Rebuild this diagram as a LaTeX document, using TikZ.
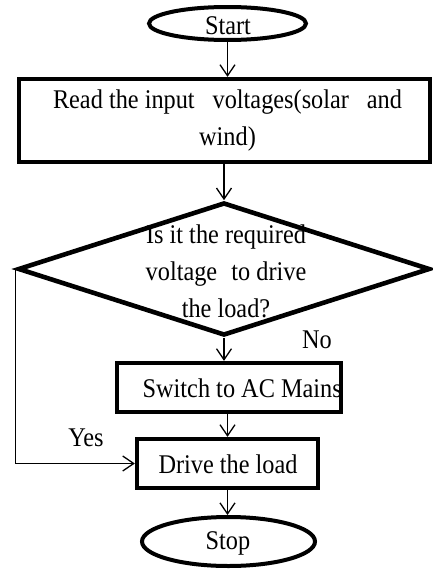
\documentclass[tikz,border=0pt]{standalone}
\usepackage{fontspec}
\newfontfamily\flowfont[FakeStretch=0.9]{Liberation Serif}
\usetikzlibrary{shapes.geometric, arrows.meta}

\begin{document}
\begin{tikzpicture}[x=1pt, y=-1pt,
    terminal/.style={ellipse, draw, line width=4pt, inner sep=0pt},
    process/.style={rectangle, draw, line width=4.3pt, inner sep=0pt},
    decision/.style={diamond, draw, line width=4.6pt, inner sep=0pt},
    flowtext/.style={font=\flowfont\fontsize{27}{37}\selectfont, align=center, inner sep=0pt},
    flow/.style={line width=1.3pt, -{Straight Barb[length=11pt, width=15pt, line width=1.3pt]}}]

        \useasboundingbox (0,0) rectangle (433,570);

        % Shapes of the flowchart
        \node[terminal, minimum width=157pt, minimum height=33pt] (start) at (227.5, 23.5) {};
        \node[process, minimum width=411pt, minimum height=83pt] (read) at (224.5, 120.5) {};
        \node[decision, minimum width=412pt, minimum height=133pt] (check) at (224, 269) {};
        \node[process, minimum width=224pt, minimum height=49pt] (switch) at (229, 387.5) {};
        \node[process, minimum width=181pt, minimum height=49pt] (drive) at (227.5, 463.5) {};
        \node[terminal, minimum width=173pt, minimum height=49pt] (stop) at (228.5, 541.5) {};

        % Texts inside the shapes
        \node[flowtext] (starttxt) at (228, 26) {Start};
        \node[flowtext] (readtxt) at (227.5, 121) {\makebox[349pt][s]{Read the input \hfill voltages(solar \hfill and}\\wind)};
        \node[flowtext] (checktxt) at (226, 271) {Is it the required\\voltage\hspace{0.3em} to drive\\the load?};
        \node[flowtext, anchor=east] (switchtxt) at (342, 388) {Switch to AC Mains};
        \node[flowtext] (drivetxt) at (228, 464) {Drive the load};
        \node[flowtext] (stoptxt) at (228, 543) {Stop};

        % Branch labels
        \node[flowtext] (yes) at (86, 438) {Yes};
        \node[flowtext] (no) at (317, 340) {No};

        % Connectors
        \draw[flow] (start.south) -- (start.south |- read.north);
        \draw[flow] (check.north |- read.south) -- (check.north);
        \draw[flow] (check.south) -- (check.south |- switch.north);
        \draw[flow] (drive.north |- switch.south) -- (drive.north);
        \draw[flow] (drive.south) -- (drive.south |- stop.north);
        \draw[flow] (check.west) |- (drive.west);
    \end{tikzpicture}
\end{document}
